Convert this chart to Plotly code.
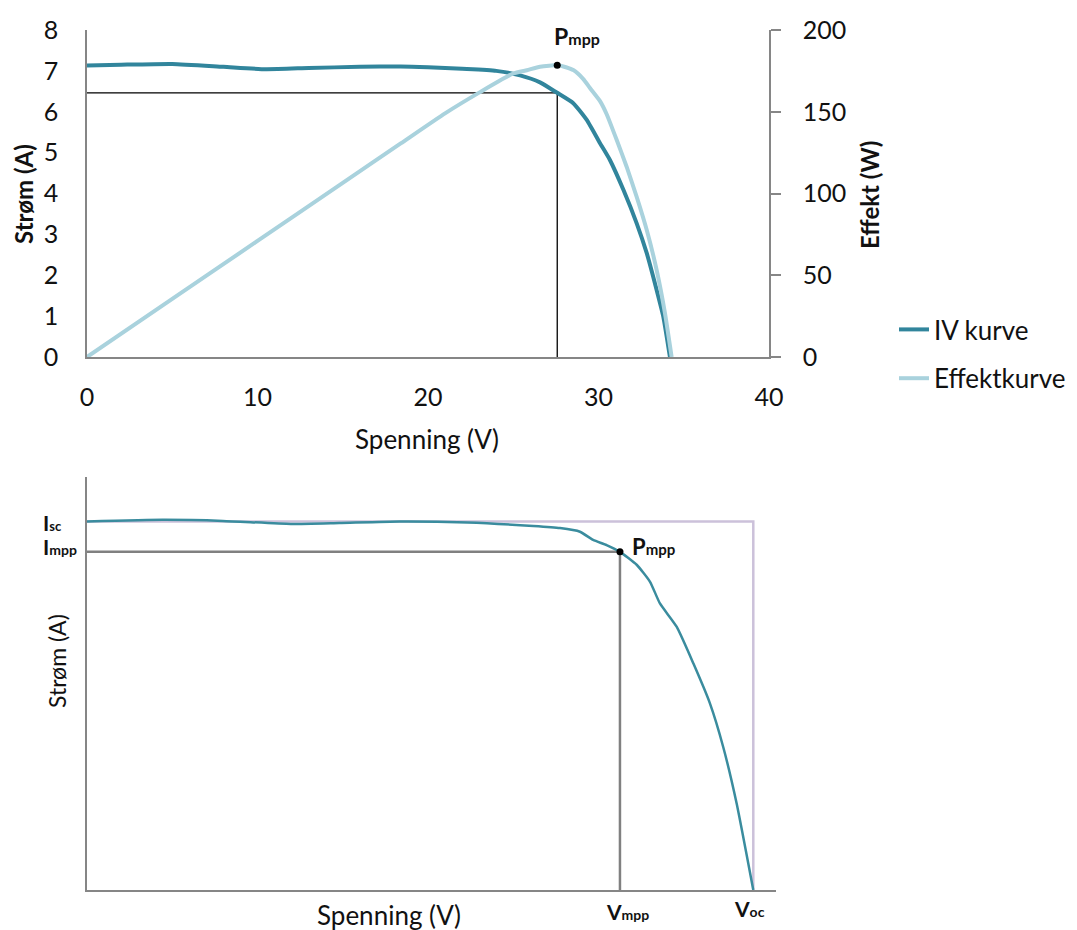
import plotly.graph_objects as go

# ---------------- data ----------------
# Top chart: IV curve (V, A)
iv_v = [0, 2, 5, 8, 10.5, 13, 16, 18.4, 20, 22, 24, 25.4, 26.57, 27.55, 28.52, 29.31, 30.09, 30.67, 31.46, 32.24, 32.83, 33.41, 33.80, 34.19]
iv_i = [7.13, 7.15, 7.17, 7.10, 7.04, 7.07, 7.10, 7.11, 7.09, 7.05, 7.00, 6.89, 6.72, 6.47, 6.21, 5.80, 5.23, 4.82, 4.09, 3.27, 2.54, 1.64, 0.99, 0.0]
# Top chart: power curve (V, W)
p_v = [0, 5, 10, 15, 18.4, 21, 23.05, 25.0, 25.8, 26.57, 27.64, 28.52, 29.11, 29.50, 30.09, 30.48, 31.07, 31.65, 32.24, 32.83, 33.41, 33.9, 34.29]
p_w = [0, 35.5, 71, 106.5, 130.6, 149, 162, 173.4, 175.4, 177.5, 178.5, 175.5, 170, 164.5, 156.5, 148.5, 132.7, 116.4, 98, 77.7, 53.2, 26.7, 0]
# Maximum power point (top)
vmpp = 27.58
impp = 6.46
pmpp = 178.5

# Bottom chart: schematic IV curve
b_v = [0, 3.9, 7, 10.5, 13, 16.1, 19.6, 23, 24.37, 25.40, 26.08, 26.77, 27.46, 28.32, 29.01, 29.52, 30.38, 31.24, 32.10, 32.78, 33.47, 34.33]
b_i = [7.14, 7.17, 7.15, 7.09, 7.11, 7.14, 7.12, 7.05, 7.01, 6.94, 6.78, 6.68, 6.55, 6.30, 5.97, 5.55, 5.10, 4.39, 3.61, 2.77, 1.68, 0.0]
b_isc = 7.14
b_voc = 34.33
b_vmpp = 27.46
b_impp = 6.55

x_ticks = [0, 10, 20, 30, 40]
y_ticks = [0, 1, 2, 3, 4, 5, 6, 7, 8]
y2_ticks = [0, 50, 100, 150, 200]

# ---------------- style ----------------
OFF = 8                     # default page margin of the html body
W, H = 1077 - OFF, 930 - OFF
FONT = "Lato"
DARK = "#31859C"
LIGHT = "#A9D2DD"
AXC = "#868686"

def px(x):
    return (x - OFF) / W

def py(y):
    return 1 - (y - OFF) / H

fig = go.Figure()

# top: Vmpp/Impp guide lines
fig.add_trace(go.Scatter(x=[0, vmpp, vmpp], y=[impp, impp, 0], mode="lines",
                         line=dict(color="#000000", width=1.3), showlegend=False,
                         xaxis="x", yaxis="y", hoverinfo="skip"))
fig.add_trace(go.Scatter(x=iv_v, y=iv_i, mode="lines", name="IV kurve",
                         line=dict(color=DARK, width=4, shape="spline", smoothing=0.5),
                         xaxis="x", yaxis="y", legendgroup="a"))
fig.add_trace(go.Scatter(x=p_v, y=p_w, mode="lines", name="Effektkurve",
                         line=dict(color=LIGHT, width=4, shape="spline", smoothing=0.5),
                         xaxis="x", yaxis="y2", legendgroup="b"))
fig.add_trace(go.Scatter(x=[vmpp], y=[pmpp], mode="markers",
                         marker=dict(color="#000000", size=7), showlegend=False,
                         xaxis="x", yaxis="y2"))

# bottom chart
fig.add_trace(go.Scatter(x=[0, b_voc, b_voc], y=[b_isc, b_isc, 0], mode="lines",
                         line=dict(color="#CCC1DA", width=2.5), showlegend=False,
                         xaxis="x2", yaxis="y3"))
fig.add_trace(go.Scatter(x=[0, b_vmpp, b_vmpp], y=[b_impp, b_impp, 0], mode="lines",
                         line=dict(color="#808080", width=2.5), showlegend=False,
                         xaxis="x2", yaxis="y3"))
fig.add_trace(go.Scatter(x=b_v, y=b_i, mode="lines",
                         line=dict(color="#3A8C9E", width=2.5, shape="spline", smoothing=0.5),
                         showlegend=False, xaxis="x2", yaxis="y3"))
fig.add_trace(go.Scatter(x=[b_vmpp], y=[b_impp], mode="markers",
                         marker=dict(color="#000000", size=7), showlegend=False,
                         xaxis="x2", yaxis="y3"))

tickfont = dict(family=FONT, size=25, color="#111111")

fig.update_layout(
    width=W, height=H,
    margin=dict(l=0, r=0, t=0, b=0, autoexpand=False),
    paper_bgcolor="white", plot_bgcolor="white",
    font=dict(family=FONT, color="#111111"),
    xaxis=dict(domain=[px(87), px(769)], anchor="y", range=[0, 40], tickvals=x_ticks,
               showgrid=False, zeroline=False, showline=True, linecolor=AXC, linewidth=1.5,
               ticks="", tickfont=tickfont, ticklabelstandoff=17, automargin=False),
    yaxis=dict(domain=[py(357), py(30)], anchor="x", range=[0, 8], tickvals=y_ticks,
               showgrid=False, zeroline=False, showline=True, linecolor=AXC, linewidth=1.5,
               ticks="", tickfont=tickfont, ticklabelstandoff=22, automargin=False),
    yaxis2=dict(overlaying="y", side="right", anchor="x", range=[0, 200], tickvals=y2_ticks,
                showgrid=False, zeroline=False, showline=True, linecolor=AXC, linewidth=1.5,
                ticks="outside", ticklen=10, tickcolor=AXC, tickwidth=1.5,
                tickfont=tickfont, ticklabelstandoff=17, automargin=False),
    xaxis2=dict(domain=[px(87), px(776)], anchor="y3", range=[0, 35.5],
                showgrid=False, zeroline=False, showline=True, linecolor=AXC, linewidth=1.5,
                showticklabels=False, ticks="", automargin=False),
    yaxis3=dict(domain=[py(890), py(477)], anchor="x2", range=[0, 8],
                showgrid=False, zeroline=False, showline=True, linecolor=AXC, linewidth=1.5,
                showticklabels=False, ticks="", automargin=False),
    legend=dict(x=px(894), y=py(306), xanchor="left", yanchor="top",
                font=dict(family=FONT, size=26, color="#111111"),
                bgcolor="rgba(0,0,0,0)", traceorder="grouped", tracegroupgap=12,
                itemwidth=30),
    showlegend=True,
)

ann = []
def add(text, x, y, size=24, bold=False, angle=0, xanchor="center", yanchor="middle", **kw):
    t = f"<b>{text}</b>" if bold else text
    ann.append(dict(text=t, x=x, y=y, xref=kw.get("xref", "paper"), yref=kw.get("yref", "paper"),
                    showarrow=False, textangle=angle, xanchor=xanchor, yanchor=yanchor,
                    font=dict(family=FONT, size=size, color="#111111"),
                    xshift=kw.get("xshift", 0), yshift=kw.get("yshift", 0)))

# top titles
add("Strøm (A)", px(24), py(194), size=24, bold=True, angle=-90)
add("Effekt (W)", px(870), py(195), size=24, bold=True, angle=-90)
add("Spenning (V)", px(427), py(439), size=26)
# top Pmpp label
add("P<span style='font-size:16px'>mpp</span>", vmpp, pmpp, size=23, bold=True,
    xref="x", yref="y2", xshift=20, yshift=29)

# bottom labels
add("Strøm (A)", px(57), py(661), size=23, angle=-90)
add("Spenning (V)", px(389), py(915), size=26)
add("I<span style='font-size:13px'>sc</span>", px(41), py(522), size=21, bold=True, xanchor="left")
add("I<span style='font-size:14px'>mpp</span>", px(41), py(546), size=21, bold=True, xanchor="left")
add("P<span style='font-size:15px'>mpp</span>", b_vmpp, b_impp, size=22, bold=True,
    xref="x2", yref="y3", xanchor="left", xshift=10, yshift=5)
add("V<span style='font-size:14px'>mpp</span>", b_vmpp, 0, size=21, bold=True,
    xref="x2", yref="y3", xshift=8, yshift=-21)
add("V<span style='font-size:14px'>oc</span>", b_voc, 0, size=21, bold=True,
    xref="x2", yref="y3", xshift=-4, yshift=-18)

fig.update_layout(annotations=ann)

fig.write_html("out.html")
